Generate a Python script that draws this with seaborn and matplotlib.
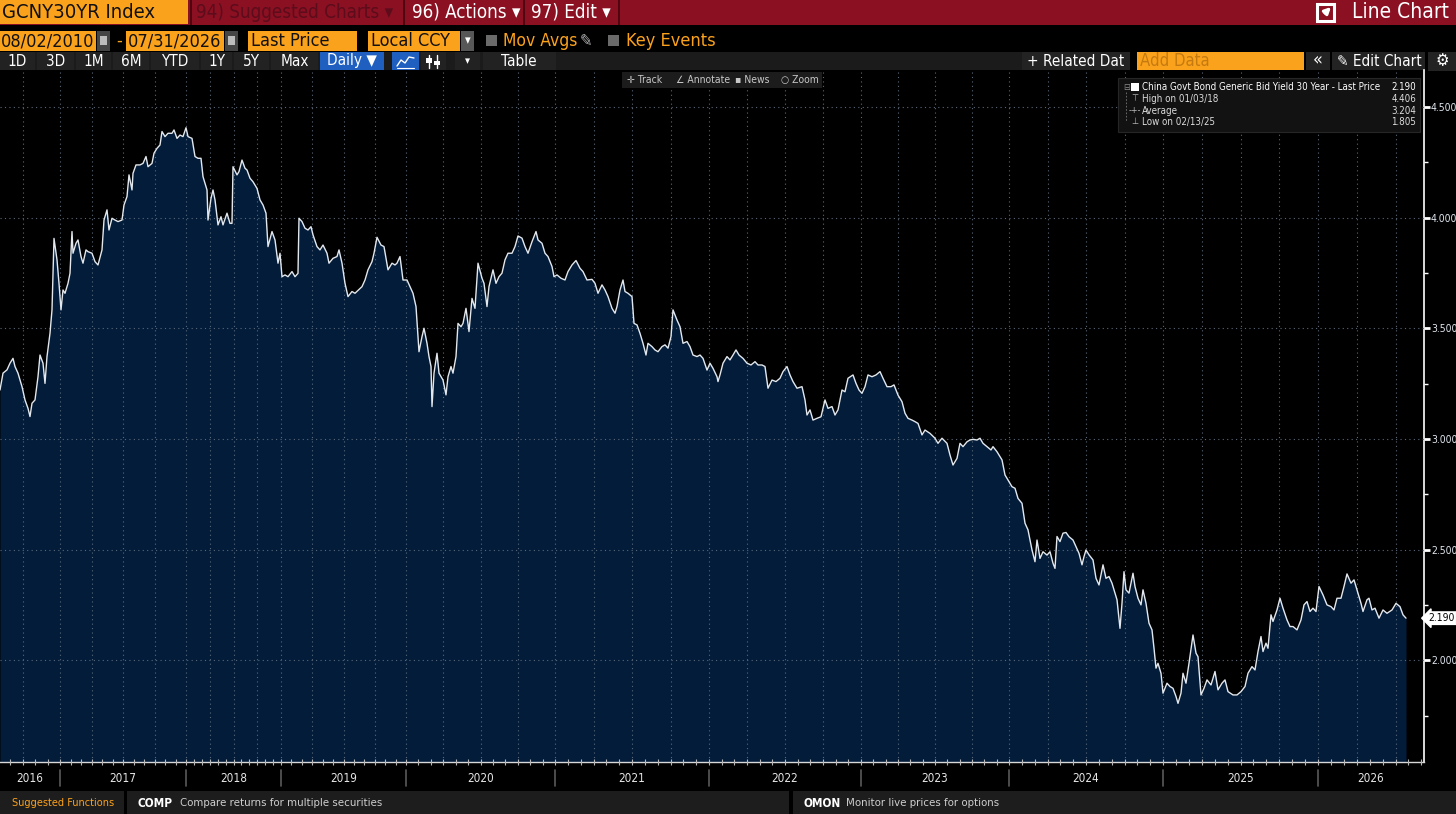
import matplotlib
matplotlib.use("Agg")
import matplotlib.pyplot as plt
import matplotlib.transforms as mtransforms
from matplotlib import font_manager
from matplotlib.patches import Rectangle
import seaborn as sns

# ---- data (GCNY30YR Index) ----
# x is the chart's own (compressed) time axis: observation number
obs = [0, 3, 7, 10, 13, 15, 18, 22, 25, 28, 30, 32, 35, 38, 40, 43, 45, 47, 50, 52,
       54, 57, 59, 61, 63, 65, 68, 70, 72, 73, 76, 78, 81, 83, 86, 88, 92, 95, 98, 102,
       104, 107, 109, 112, 115, 118, 122, 124, 127, 129, 132, 133, 136, 140, 143, 146, 148, 152, 154, 157,
       160, 162, 165, 168, 172, 174, 177, 180, 183, 186, 188, 192, 195, 198, 201, 203, 207, 208, 211, 213,
       215, 218, 221, 223, 227, 230, 232, 233, 237, 239, 242, 245, 247, 250, 253, 257, 260, 263, 266, 268,
       272, 275, 278, 280, 282, 285, 288, 292, 295, 298, 299, 302, 305, 308, 311, 313, 317, 320, 323, 327,
       329, 333, 337, 339, 342, 345, 348, 352, 355, 362, 365, 368, 372, 374, 377, 381, 384, 388, 392, 395,
       397, 400, 403, 407, 410, 413, 416, 419, 422, 424, 427, 429, 431, 432, 434, 437, 439, 443, 446, 448,
       451, 453, 456, 458, 461, 463, 466, 469, 472, 475, 478, 482, 484, 487, 489, 493, 496, 499, 502, 505,
       508, 512, 515, 518, 522, 525, 528, 532, 536, 538, 542, 545, 548, 552, 554, 557, 561, 565, 568, 572,
       576, 580, 583, 587, 592, 595, 598, 602, 605, 608, 612, 615, 617, 620, 623, 625, 628, 632, 634, 637,
       640, 643, 646, 648, 652, 655, 658, 662, 665, 668, 671, 673, 677, 680, 683, 687, 690, 693, 697, 700,
       703, 707, 710, 713, 717, 718, 720, 723, 727, 730, 733, 736, 739, 743, 747, 751, 755, 758, 762, 765,
       768, 772, 776, 780, 783, 787, 790, 793, 797, 802, 805, 807, 810, 813, 817, 821, 825, 828, 832, 835,
       838, 842, 845, 848, 853, 856, 859, 862, 865, 868, 872, 876, 880, 883, 887, 891, 894, 898, 902, 905,
       908, 912, 915, 918, 922, 925, 930, 935, 938, 942, 947, 950, 953, 957, 960, 963, 967, 970, 973, 977,
       980, 983, 987, 991, 993, 997, 1002, 1005, 1008, 1012, 1015, 1018, 1022, 1025, 1028, 1032, 1035, 1037, 1040, 1043,
       1047, 1050, 1053, 1055, 1057, 1060, 1063, 1066, 1069, 1073, 1076, 1079, 1082, 1084, 1086, 1089, 1093, 1096, 1099, 1103,
       1106, 1109, 1112, 1115, 1117, 1120, 1122, 1124, 1126, 1129, 1133, 1135, 1138, 1141, 1143, 1146, 1149, 1152, 1154, 1156,
       1158, 1161, 1163, 1167, 1170, 1173, 1176, 1178, 1181, 1183, 1186, 1189, 1193, 1196, 1198, 1201, 1204, 1207, 1211, 1215,
       1218, 1222, 1225, 1228, 1233, 1237, 1241, 1245, 1248, 1252, 1255, 1258, 1261, 1263, 1266, 1268, 1271, 1273, 1277, 1280,
       1283, 1287, 1290, 1293, 1297, 1301, 1304, 1307, 1310, 1313, 1316, 1319, 1323, 1327, 1331, 1334, 1337, 1341, 1344, 1347,
       1351, 1354, 1357, 1361, 1363, 1367, 1369, 1372, 1375, 1379, 1383, 1387, 1392, 1396, 1400, 1403, 1406]

yld = [3.221, 3.297, 3.312, 3.342, 3.364, 3.327, 3.297, 3.236, 3.176, 3.138, 3.101, 3.161, 3.176, 3.281, 3.379, 3.342, 3.251, 3.372, 3.477, 3.583,
       3.906, 3.809, 3.703, 3.583, 3.673, 3.658, 3.703, 3.748, 3.937, 3.839, 3.884, 3.899, 3.824, 3.794, 3.854, 3.846, 3.839, 3.801, 3.786, 3.854,
       3.989, 4.035, 3.944, 3.997, 3.989, 3.982, 3.989, 4.057, 4.095, 4.193, 4.125, 4.200, 4.238, 4.238, 4.245, 4.276, 4.230, 4.245, 4.291, 4.313,
       4.328, 4.389, 4.366, 4.381, 4.381, 4.396, 4.358, 4.373, 4.366, 4.406, 4.366, 4.358, 4.276, 4.268, 4.268, 4.185, 4.125, 3.989, 4.087, 4.125,
       4.080, 3.967, 4.004, 3.967, 4.020, 3.974, 3.974, 4.230, 4.193, 4.208, 4.260, 4.223, 4.215, 4.178, 4.162, 4.132, 4.080, 4.057, 4.020, 3.869,
       3.937, 3.899, 3.794, 3.839, 3.733, 3.741, 3.733, 3.756, 3.733, 3.748, 3.997, 3.982, 3.952, 3.944, 3.959, 3.922, 3.869, 3.854, 3.876, 3.839,
       3.794, 3.816, 3.824, 3.854, 3.794, 3.703, 3.643, 3.666, 3.658, 3.688, 3.718, 3.764, 3.801, 3.839, 3.911, 3.876, 3.869, 3.764, 3.794, 3.786,
       3.794, 3.824, 3.718, 3.718, 3.688, 3.658, 3.598, 3.394, 3.462, 3.500, 3.432, 3.372, 3.327, 3.146, 3.297, 3.387, 3.297, 3.266, 3.199, 3.281,
       3.327, 3.297, 3.372, 3.522, 3.507, 3.522, 3.590, 3.485, 3.635, 3.590, 3.794, 3.726, 3.703, 3.598, 3.688, 3.764, 3.703, 3.733, 3.749, 3.809,
       3.839, 3.839, 3.869, 3.917, 3.907, 3.869, 3.839, 3.891, 3.937, 3.899, 3.884, 3.839, 3.824, 3.779, 3.733, 3.741, 3.726, 3.718, 3.756, 3.786,
       3.806, 3.771, 3.756, 3.718, 3.721, 3.703, 3.658, 3.696, 3.673, 3.643, 3.590, 3.568, 3.598, 3.673, 3.718, 3.666, 3.658, 3.643, 3.522, 3.515,
       3.477, 3.432, 3.379, 3.432, 3.417, 3.402, 3.394, 3.417, 3.425, 3.410, 3.462, 3.583, 3.537, 3.507, 3.432, 3.440, 3.417, 3.379, 3.372, 3.379,
       3.364, 3.311, 3.342, 3.319, 3.281, 3.259, 3.289, 3.342, 3.372, 3.357, 3.379, 3.402, 3.379, 3.364, 3.342, 3.334, 3.349, 3.334, 3.334, 3.327,
       3.229, 3.266, 3.259, 3.274, 3.304, 3.327, 3.289, 3.259, 3.229, 3.236, 3.176, 3.108, 3.131, 3.085, 3.093, 3.100, 3.176, 3.138, 3.146, 3.108,
       3.131, 3.221, 3.213, 3.274, 3.289, 3.251, 3.221, 3.206, 3.236, 3.289, 3.281, 3.289, 3.304, 3.274, 3.236, 3.236, 3.244, 3.198, 3.168, 3.116,
       3.093, 3.085, 3.078, 3.070, 3.018, 3.040, 3.025, 3.003, 2.980, 3.003, 2.980, 2.927, 2.882, 2.912, 2.980, 2.965, 2.987, 2.995, 2.998, 2.995,
       3.003, 2.980, 2.965, 2.950, 2.965, 2.942, 2.905, 2.837, 2.814, 2.784, 2.777, 2.731, 2.709, 2.619, 2.589, 2.498, 2.445, 2.543, 2.460, 2.490,
       2.475, 2.490, 2.438, 2.415, 2.559, 2.536, 2.574, 2.577, 2.558, 2.543, 2.513, 2.483, 2.431, 2.468, 2.498, 2.476, 2.453, 2.370, 2.340, 2.431,
       2.370, 2.378, 2.348, 2.303, 2.273, 2.144, 2.257, 2.400, 2.318, 2.303, 2.393, 2.333, 2.280, 2.250, 2.318, 2.257, 2.167, 2.137, 2.054, 1.964,
       1.986, 1.941, 1.851, 1.896, 1.881, 1.873, 1.836, 1.805, 1.851, 1.941, 1.896, 1.986, 2.114, 2.032, 2.016, 1.843, 1.873, 1.911, 1.888, 1.949,
       1.866, 1.896, 1.911, 1.858, 1.843, 1.843, 1.858, 1.881, 1.941, 1.971, 1.956, 2.039, 2.107, 2.039, 2.077, 2.054, 2.205, 2.175, 2.227, 2.280,
       2.235, 2.182, 2.152, 2.152, 2.137, 2.182, 2.250, 2.265, 2.220, 2.235, 2.220, 2.333, 2.295, 2.250, 2.242, 2.227, 2.280, 2.280, 2.333, 2.390,
       2.348, 2.363, 2.318, 2.257, 2.220, 2.273, 2.280, 2.227, 2.235, 2.190, 2.227, 2.212, 2.227, 2.257, 2.242, 2.205, 2.190]

year_labels = ['2016', '2017', '2018', '2019', '2020', '2021', '2022', '2023', '2024', '2025', '2026']
# obs at which each year begins (last entry = start of 2027)
year_start = [-90, 60, 186, 281, 406, 555, 709, 861, 1009, 1163, 1318, 1473]

y_major = [2.0, 2.5, 3.0, 3.5, 4.0, 4.5]
y_minor = [1.75, 2.25, 2.75, 3.25, 3.75, 4.25]

series_name = 'China Govt Bond Generic Bid Yield 30 Year - Last Price'
last_price = 2.190
stat_labels = ['High on 01/03/18', 'Average', 'Low on 02/13/25']
stat_values = [4.406, 3.204, 1.805]
stat_marks = ['\u22a4', '-+-', '\u22a5']

# ---- look ----
RED = '#8b1022'
ORANGE = '#fba21c'
NAVY = '#021c3a'
GRID = '#5b6878'

sns.set_theme(style='dark')
names = {f.name for f in font_manager.fontManager.ttflist}
if 'Liberation Sans Narrow' in names:
    UI_FONT, STRETCH = 'Liberation Sans Narrow', 'normal'
else:
    UI_FONT, STRETCH = 'DejaVu Sans', 'condensed'
plt.rcParams['font.family'] = [UI_FONT, 'DejaVu Sans']
plt.rcParams['font.stretch'] = STRETCH

W, H = 1456, 814
fig = plt.figure(figsize=(W / 100, H / 100), dpi=100, facecolor='black')

# background "screen" chrome drawn in pixel coordinates
bg = fig.add_axes([0, 0, 1, 1], zorder=0)
bg.set_xlim(0, W)
bg.set_ylim(H, 0)
bg.axis('off')


def box(a, x, y, w, h, fc, **kw):
    a.add_patch(Rectangle((x, y), w, h, fc=fc, ec=kw.pop('ec', 'none'), **kw))


def txt(a, x, y, s, size, color, ha='left', **kw):
    a.text(x, y, s, fontsize=size, color=color, ha=ha, va='center', **kw)


# top red bar
box(bg, 0, 0, W, 25, RED)
box(bg, 0, 0, 188, 24, ORANGE)
txt(bg, 2, 12.5, 'GCNY30YR Index', 14.5, '#111111')
for xd in [190, 403, 523, 618]:
    box(bg, xd, 0, 2, 25, '#50060f')
txt(bg, 196, 12.5, '94) Suggested Charts \u25be', 13.5, '#5c0c1b')
txt(bg, 412, 12.5, '96) Actions \u25be', 13.5, 'white')
txt(bg, 531, 12.5, '97) Edit \u25be', 13.5, 'white')
box(bg, 1317, 4, 17, 17, 'none', ec='white', lw=2.2)
bg.annotate('', xy=(1333, 5), xytext=(1323, 15),
            arrowprops=dict(arrowstyle='-|>', color='white', lw=2.2, mutation_scale=9))
txt(bg, 1449, 12.5, 'Line Chart', 15, 'white', ha='right')

# second row: date range and options
box(bg, 0, 31, 96, 20, ORANGE)
txt(bg, 1, 41, '08/02/2010', 13, '#111111')
box(bg, 97, 31, 13, 20, '#454545')
box(bg, 100, 36, 7, 9, '#bcbcbc')
txt(bg, 116, 41, '-', 13, ORANGE)
box(bg, 126, 31, 98, 20, ORANGE)
txt(bg, 128, 41, '07/31/2026', 13, '#111111')
box(bg, 225, 31, 13, 20, '#454545')
box(bg, 228, 36, 7, 9, '#bcbcbc')
box(bg, 248, 31, 109, 20, ORANGE)
txt(bg, 251, 41, 'Last Price', 13, '#111111')
box(bg, 368, 31, 92, 20, ORANGE)
txt(bg, 371, 41, 'Local CCY', 13, '#111111')
box(bg, 461, 31, 13, 20, '#575757')
txt(bg, 467.5, 41, '\u25be', 9, 'white', ha='center')
box(bg, 486, 35, 11, 11, '#6a6a6a')
txt(bg, 503, 41, 'Mov Avgs', 12.5, ORANGE)
txt(bg, 580, 41, '\u270e', 12, '#b0b0b0')
box(bg, 608, 35, 11, 11, '#6a6a6a')
txt(bg, 626, 41, 'Key Events', 13, ORANGE)

# third row: period buttons and chart tools
box(bg, 0, 52, 1022, 19, '#1b1b1b')
buttons = [('1D', 0, 35), ('3D', 37, 74), ('1M', 76, 111), ('6M', 113, 149), ('YTD', 151, 199),
           ('1Y', 201, 232), ('5Y', 234, 269), ('Max', 271, 318)]
for lab, x0, x1 in buttons:
    box(bg, x0, 52, x1 - x0, 19, '#222222')
    txt(bg, (x0 + x1) / 2, 61, lab, 11, 'white', ha='center')
box(bg, 320, 52, 64, 19, '#1f5fc0')
txt(bg, 352, 61, 'Daily \u25bc', 11, 'white', ha='center')
box(bg, 392, 52, 27, 19, '#1f5fc0')
bg.plot([397, 401, 405, 409, 414], [66, 60, 63, 57, 58], color='white', lw=1)
bg.plot([397, 414], [67.5, 67.5], color='white', lw=0.8)
box(bg, 421, 52, 25, 19, '#222222')
bg.plot([429, 429], [55, 68], color='white', lw=1)
bg.plot([437, 437], [55, 68], color='white', lw=1)
box(bg, 426, 58, 6, 5, 'white')
box(bg, 434, 61, 6, 4, 'white')
box(bg, 455, 52, 25, 19, '#222222')
txt(bg, 467.5, 61, '\u25be', 8, 'white', ha='center')
box(bg, 483, 52, 73, 19, '#222222')
txt(bg, 519, 61, 'Table', 11, 'white', ha='center')

box(bg, 1022, 52, 108, 19, '#232323')
txt(bg, 1027, 61, '+ Related Dat', 11, 'white')
box(bg, 1137, 52, 167, 19, ORANGE)
txt(bg, 1140, 61, 'Add Data', 12, '#c57a10')
box(bg, 1306, 52, 24, 19, '#232323')
txt(bg, 1318, 60, '\u00ab', 13, 'white', ha='center')
box(bg, 1332, 52, 93, 19, '#232323')
txt(bg, 1337, 61, '\u270e Edit Chart', 11, 'white')
box(bg, 1428, 52, 28, 19, '#232323')
txt(bg, 1442, 61, '\u2699', 12, 'white', ha='center')

# bottom "Suggested Functions" bar
box(bg, 0, 791, W, 23, '#1d1d1d')
box(bg, 124, 791, 3, 23, 'black')
box(bg, 789, 791, 4, 23, 'black')
txt(bg, 12, 803.5, 'Suggested Functions', 7.8, ORANGE)
txt(bg, 137, 803.5, 'COMP', 8.5, 'white', fontweight='bold')
txt(bg, 180, 803.5, 'Compare returns for multiple securities', 8.2, '#cfcfcf')
txt(bg, 804, 803.5, 'OMON', 8.5, 'white', fontweight='bold')
txt(bg, 846, 803.5, 'Monitor live prices for options', 8.2, '#cfcfcf')

# ---- the chart itself ----
X_MAX = 1424
Y_LO, Y_HI = 1.54, 4.667
ax = fig.add_axes([0, (H - 762) / H, X_MAX / W, 692 / H], zorder=1)
ax.set_facecolor('black')

ax.fill_between(obs, yld, Y_LO, color=NAVY, lw=0, zorder=1)
sns.lineplot(x=obs, y=yld, ax=ax, color='#e3e8ee', linewidth=1.0, zorder=3)

ax.set_xlim(0, X_MAX)
ax.set_ylim(Y_LO, Y_HI)
ax.set_xlabel('')
ax.set_ylabel('')

# quarterly grid lines and monthly ticks on the compressed time axis
quarters, months = [], []
for s, e in zip(year_start[:-1], year_start[1:]):
    quarters += [s + q * (e - s) / 4 for q in range(4)]
    months += [s + m * (e - s) / 12 for m in range(12)]
quarters = [q for q in quarters if 0 < q < X_MAX]
months = [m for m in months if 0 < m < X_MAX]
ax.set_xticks(quarters)
ax.set_xticks(months, minor=True)
ax.set_xticklabels([])
ax.tick_params(axis='x', which='both', direction='inout', length=4, width=0.8,
               color='#b8b8b8', bottom=True, labelbottom=False)

ax.yaxis.tick_right()
ax.set_yticks(y_major)
ax.set_yticklabels([f'{v:.3f}' for v in y_major])
ax.set_yticks(y_minor, minor=True)
ax.tick_params(axis='y', which='major', direction='out', length=4, width=2,
               color='white', labelcolor='#dfe6ee', labelsize=7.5, pad=1, right=True)
ax.tick_params(axis='y', which='minor', direction='out', length=3, width=1, color='white', right=True)

ax.set_axisbelow(False)
ax.grid(True, which='major', axis='both', color=GRID, linestyle=(0, (1, 3)), linewidth=0.8)
ax.grid(False, which='minor')

for side in ['left', 'top']:
    ax.spines[side].set_visible(False)
ax.spines['right'].set_color('white')
ax.spines['right'].set_linewidth(1.2)
ax.spines['bottom'].set_color('#d8d8d8')
ax.spines['bottom'].set_linewidth(1.0)

# year labels and separators under the axis
tr = mtransforms.blended_transform_factory(ax.transData, ax.transAxes)
for lab, s, e in zip(year_labels, year_start[:-1], year_start[1:]):
    mid = (max(s, 0) + min(e, X_MAX)) / 2
    ax.text(mid, -0.0245, lab, transform=tr, ha='center', va='center', fontsize=8.5,
            color='#e6e6e6', clip_on=False)
    if 0 < s < X_MAX:
        ax.plot([s, s], [-0.011, -0.034], transform=tr, color='#5a5a5a', lw=1.2, clip_on=False)

# last price tag on the right axis
tr_y = mtransforms.blended_transform_factory(ax.transAxes, ax.transData)
ax.text(1.003, last_price, f'{last_price:.3f}', transform=tr_y, ha='left', va='center',
        fontsize=7.5, color='black', clip_on=False,
        bbox=dict(boxstyle='larrow,pad=0.12', fc='white', ec='white'))

# ---- overlays on top of the plot ----
ov = fig.add_axes([0, 0, 1, 1], zorder=2)
ov.set_xlim(0, W)
ov.set_ylim(H, 0)
ov.axis('off')
ov.patch.set_alpha(0)

box(ov, 622, 72, 200, 16, '#1c1c1c')
tools = [('\u271b Track', 627), ('\u2220 Annotate', 676), ('\u25aa News', 735), ('\u25cb Zoom', 781)]
for lab, x0 in tools:
    txt(ov, x0, 80, lab, 7.5, '#c8c8c8')

box(ov, 1118, 78, 302, 54, '#121212', ec='#262626', lw=0.8)
txt(ov, 1123, 87, '\u229f', 6.5, '#888888')
box(ov, 1131, 83, 8, 8, 'white')
txt(ov, 1142, 87, series_name, 7.0, 'white')
txt(ov, 1416, 87, f'{last_price:.3f}', 7.0, 'white', ha='right')
ov.plot([1126, 1126], [92, 122], color='#777777', lw=0.6, linestyle=(0, (2, 2)))
for i, (lab, val, mk) in enumerate(zip(stat_labels, stat_values, stat_marks)):
    yy = 99 + i * 11.5
    txt(ov, 1135, yy, mk, 6.5, '#bbbbbb', ha='center')
    txt(ov, 1142, yy, lab, 7.0, '#dcdcdc')
    txt(ov, 1416, yy, f'{val:.3f}', 7.0, '#dcdcdc', ha='right')

fig.savefig('out.png', dpi=100, facecolor='black')
